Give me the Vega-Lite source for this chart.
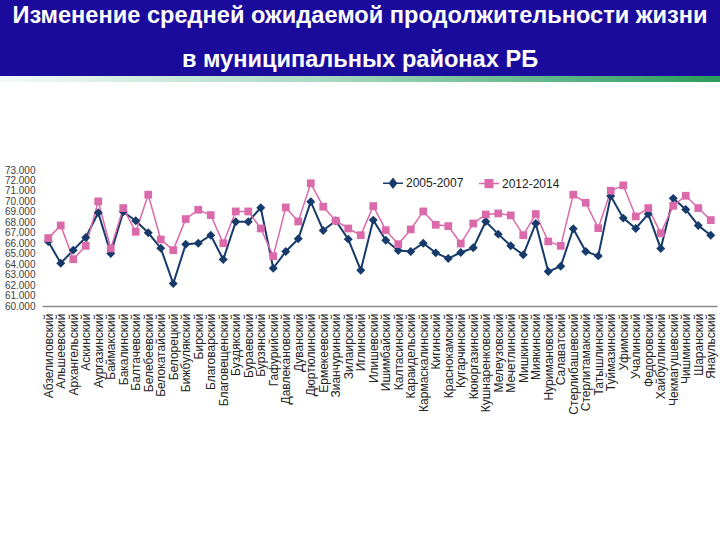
{
  "$schema": "https://vega.github.io/schema/vega-lite/v6.json",
  "padding": 0,
  "background": "white",
  "spacing": 83,
  "config": {"font": "Liberation Sans", "view": {"stroke": null}},
  "vconcat": [
    {
      "spacing": 0,
      "vconcat": [
        {
          "width": 720,
          "height": 76,
          "view": {"fill": "#1b0b9d", "stroke": null},
          "data": {"values": [
            {"row": 1, "c": "t", "t": "Изменение средней ожидаемой продолжительности жизни"},
            {"row": 2, "c": "t", "t": "в муниципальных районах РБ"}
          ]},
          "mark": {"type": "text", "color": "white", "fontWeight": "bold", "fontSize": 23.6, "baseline": "middle", "align": "center"},
          "encoding": {
            "x": {"field": "c", "type": "nominal", "axis": null},
            "y": {"field": "row", "type": "ordinal", "axis": null, "scale": {"type": "point", "padding": 0.36}},
            "text": {"field": "t"}
          }
        },
        {
          "width": 720,
          "height": 6,
          "data": {"values": [{"a": 0, "b": 1}]},
          "mark": {"type": "rect", "color": {"gradient": "linear", "x1": 0, "x2": 1, "y1": 0, "y2": 0, "stops": [{"offset": 0, "color": "#f4faf7"}, {"offset": 0.45, "color": "#a8d9c0"}, {"offset": 1, "color": "#2a9c5e"}]}},
          "encoding": {
            "x": {"field": "a", "type": "quantitative", "axis": null, "scale": {"domain": [0, 1], "nice": false}},
            "x2": {"field": "b"},
            "y": {"field": "a", "type": "quantitative", "axis": null, "scale": {"domain": [0, 1], "nice": false}},
            "y2": {"field": "b"}
          }
        }
      ]
    },
    {
      "width": 717,
      "height": 136,
      "data": {"values": [
        {"d": "Абзелиловский", "s": "2005-2007", "v": 66.17},
        {"d": "Альшеевский", "s": "2005-2007", "v": 64.09},
        {"d": "Архангельский", "s": "2005-2007", "v": 65.34},
        {"d": "Аскинский", "s": "2005-2007", "v": 66.55},
        {"d": "Аургазинский", "s": "2005-2007", "v": 68.91},
        {"d": "Баймакский", "s": "2005-2007", "v": 65.02},
        {"d": "Бакалинский", "s": "2005-2007", "v": 69.0},
        {"d": "Балтачевский", "s": "2005-2007", "v": 68.15},
        {"d": "Белебеевский", "s": "2005-2007", "v": 67.0},
        {"d": "Белокатайский", "s": "2005-2007", "v": 65.53},
        {"d": "Белорецкий", "s": "2005-2007", "v": 62.14},
        {"d": "Бижбулякский", "s": "2005-2007", "v": 65.91},
        {"d": "Бирский", "s": "2005-2007", "v": 66.0},
        {"d": "Благоварский", "s": "2005-2007", "v": 66.77},
        {"d": "Благовещенский", "s": "2005-2007", "v": 64.44},
        {"d": "Буздякский", "s": "2005-2007", "v": 68.05},
        {"d": "Бураевский", "s": "2005-2007", "v": 68.05},
        {"d": "Бурзянский", "s": "2005-2007", "v": 69.39},
        {"d": "Гафурийский", "s": "2005-2007", "v": 63.61},
        {"d": "Давлекановский", "s": "2005-2007", "v": 65.21},
        {"d": "Дуванский", "s": "2005-2007", "v": 66.42},
        {"d": "Дюртюлинский", "s": "2005-2007", "v": 69.97},
        {"d": "Ермекеевский", "s": "2005-2007", "v": 67.22},
        {"d": "Зианчуринский", "s": "2005-2007", "v": 68.15},
        {"d": "Зилаирский", "s": "2005-2007", "v": 66.39},
        {"d": "Иглинский", "s": "2005-2007", "v": 63.42},
        {"d": "Илишевский", "s": "2005-2007", "v": 68.21},
        {"d": "Ишимбайский", "s": "2005-2007", "v": 66.29},
        {"d": "Калтасинский", "s": "2005-2007", "v": 65.3},
        {"d": "Караидельский", "s": "2005-2007", "v": 65.21},
        {"d": "Кармаскалинский", "s": "2005-2007", "v": 66.0},
        {"d": "Кигинский", "s": "2005-2007", "v": 65.08},
        {"d": "Краснокамский", "s": "2005-2007", "v": 64.54},
        {"d": "Кугарчинский", "s": "2005-2007", "v": 65.11},
        {"d": "Кююргазинский", "s": "2005-2007", "v": 65.56},
        {"d": "Кушнаренковский", "s": "2005-2007", "v": 68.08},
        {"d": "Мелеузовский", "s": "2005-2007", "v": 66.87},
        {"d": "Мечетлинский", "s": "2005-2007", "v": 65.75},
        {"d": "Мишкинский", "s": "2005-2007", "v": 64.89},
        {"d": "Миякинский", "s": "2005-2007", "v": 67.89},
        {"d": "Нуримановский", "s": "2005-2007", "v": 63.29},
        {"d": "Салаватский", "s": "2005-2007", "v": 63.8},
        {"d": "Стерлибашевский", "s": "2005-2007", "v": 67.38},
        {"d": "Стерлитамакский", "s": "2005-2007", "v": 65.21},
        {"d": "Татышлинский", "s": "2005-2007", "v": 64.79},
        {"d": "Туймазинский", "s": "2005-2007", "v": 70.51},
        {"d": "Уфимский", "s": "2005-2007", "v": 68.4},
        {"d": "Учалинский", "s": "2005-2007", "v": 67.41},
        {"d": "Федоровский", "s": "2005-2007", "v": 68.79},
        {"d": "Хайбуллинский", "s": "2005-2007", "v": 65.5},
        {"d": "Чекмагушевский", "s": "2005-2007", "v": 70.29},
        {"d": "Чишминский", "s": "2005-2007", "v": 69.23},
        {"d": "Шаранский", "s": "2005-2007", "v": 67.7},
        {"d": "Янаульский", "s": "2005-2007", "v": 66.77},
        {"d": "Абзелиловский", "s": "2012-2014", "v": 66.49},
        {"d": "Альшеевский", "s": "2012-2014", "v": 67.7},
        {"d": "Архангельский", "s": "2012-2014", "v": 64.47},
        {"d": "Аскинский", "s": "2012-2014", "v": 65.75},
        {"d": "Аургазинский", "s": "2012-2014", "v": 70.0},
        {"d": "Баймакский", "s": "2012-2014", "v": 65.5},
        {"d": "Бакалинский", "s": "2012-2014", "v": 69.36},
        {"d": "Балтачевский", "s": "2012-2014", "v": 67.09},
        {"d": "Белебеевский", "s": "2012-2014", "v": 70.64},
        {"d": "Белокатайский", "s": "2012-2014", "v": 66.36},
        {"d": "Белорецкий", "s": "2012-2014", "v": 65.34},
        {"d": "Бижбулякский", "s": "2012-2014", "v": 68.31},
        {"d": "Бирский", "s": "2012-2014", "v": 69.2},
        {"d": "Благоварский", "s": "2012-2014", "v": 68.69},
        {"d": "Благовещенский", "s": "2012-2014", "v": 66.0},
        {"d": "Буздякский", "s": "2012-2014", "v": 69.04},
        {"d": "Бураевский", "s": "2012-2014", "v": 69.04},
        {"d": "Бурзянский", "s": "2012-2014", "v": 67.41},
        {"d": "Гафурийский", "s": "2012-2014", "v": 64.76},
        {"d": "Давлекановский", "s": "2012-2014", "v": 69.42},
        {"d": "Дуванский", "s": "2012-2014", "v": 68.08},
        {"d": "Дюртюлинский", "s": "2012-2014", "v": 71.73},
        {"d": "Ермекеевский", "s": "2012-2014", "v": 69.49},
        {"d": "Зианчуринский", "s": "2012-2014", "v": 68.15},
        {"d": "Зилаирский", "s": "2012-2014", "v": 67.41},
        {"d": "Иглинский", "s": "2012-2014", "v": 66.77},
        {"d": "Илишевский", "s": "2012-2014", "v": 69.55},
        {"d": "Ишимбайский", "s": "2012-2014", "v": 67.25},
        {"d": "Калтасинский", "s": "2012-2014", "v": 65.91},
        {"d": "Караидельский", "s": "2012-2014", "v": 67.32},
        {"d": "Кармаскалинский", "s": "2012-2014", "v": 69.04},
        {"d": "Кигинский", "s": "2012-2014", "v": 67.76},
        {"d": "Краснокамский", "s": "2012-2014", "v": 67.64},
        {"d": "Кугарчинский", "s": "2012-2014", "v": 65.97},
        {"d": "Кююргазинский", "s": "2012-2014", "v": 67.89},
        {"d": "Кушнаренковский", "s": "2012-2014", "v": 68.75},
        {"d": "Мелеузовский", "s": "2012-2014", "v": 68.85},
        {"d": "Мечетлинский", "s": "2012-2014", "v": 68.66},
        {"d": "Мишкинский", "s": "2012-2014", "v": 66.77},
        {"d": "Миякинский", "s": "2012-2014", "v": 68.79},
        {"d": "Нуримановский", "s": "2012-2014", "v": 66.17},
        {"d": "Салаватский", "s": "2012-2014", "v": 65.75},
        {"d": "Стерлибашевский", "s": "2012-2014", "v": 70.64},
        {"d": "Стерлитамакский", "s": "2012-2014", "v": 69.87},
        {"d": "Татышлинский", "s": "2012-2014", "v": 67.44},
        {"d": "Туймазинский", "s": "2012-2014", "v": 71.02},
        {"d": "Уфимский", "s": "2012-2014", "v": 71.53},
        {"d": "Учалинский", "s": "2012-2014", "v": 68.56},
        {"d": "Федоровский", "s": "2012-2014", "v": 69.36},
        {"d": "Хайбуллинский", "s": "2012-2014", "v": 66.96},
        {"d": "Чекмагушевский", "s": "2012-2014", "v": 69.58},
        {"d": "Чишминский", "s": "2012-2014", "v": 70.54},
        {"d": "Шаранский", "s": "2012-2014", "v": 69.36},
        {"d": "Янаульский", "s": "2012-2014", "v": 68.21}
      ]},
      "encoding": {
        "x": {
          "field": "d", "type": "nominal", "sort": null,
          "scale": {"type": "point", "padding": 0.5, "range": [42, 717]},
          "axis": {"title": null, "labelAngle": -90, "labelFontSize": 12, "labelColor": "#222222", "labelPadding": 7, "ticks": false, "domainColor": "#8c8c8c", "domainWidth": 1.5, "grid": false, "labelLimit": 200}
        },
        "y": {
          "field": "v", "type": "quantitative",
          "scale": {"domain": [60, 73], "nice": false, "zero": false},
          "axis": {"title": null, "offset": -43, "values": [60, 61, 62, 63, 64, 65, 66, 67, 68, 69, 70, 71, 72, 73], "format": ".3f", "labelFontSize": 10, "labelColor": "#404040", "labelPadding": 8, "labelOverlap": false, "labelBound": false, "ticks": false, "domain": false, "grid": false}
        },
        "color": {
          "field": "s", "type": "nominal",
          "scale": {"domain": ["2005-2007", "2012-2014"], "range": ["#163a6b", "#db6aab"]},
          "legend": {
            "orient": "none", "legendX": 382, "legendY": 172, "direction": "horizontal", "title": null,
            "labelFont": "Liberation Sans", "labelFontSize": 12, "labelColor": "#222222",
            "symbolSize": 400, "labelOffset": 2, "columnPadding": 12,
            "encode": {"symbols": {"update": {
              "shape": {"signal": "datum.value === '2005-2007' ? 'M-1,0L1,0M0,-0.45L0.35,0L0,0.45L-0.35,0Z' : 'M-1,0L1,0M-0.38,-0.38L0.38,-0.38L0.38,0.38L-0.38,0.38Z'"},
              "fill": {"signal": "datum.value === '2005-2007' ? '#163a6b' : '#db6aab'"},
              "stroke": {"signal": "datum.value === '2005-2007' ? '#163a6b' : '#db6aab'"},
              "strokeWidth": {"value": 1.5},
              "opacity": {"value": 1}
            }}}
          }
        }
      },
      "layer": [
        {
          "mark": {"type": "line"},
          "encoding": {"strokeWidth": {"field": "s", "type": "nominal", "scale": {"range": [2, 1.5]}, "legend": null}}
        },
        {
          "mark": {"type": "point", "filled": true, "opacity": 1},
          "encoding": {
            "shape": {"field": "s", "type": "nominal", "scale": {"range": ["diamond", "square"]}, "legend": null},
            "size": {"field": "s", "type": "nominal", "scale": {"range": [80, 60]}, "legend": null}
          }
        }
      ]
    }
  ]
}
